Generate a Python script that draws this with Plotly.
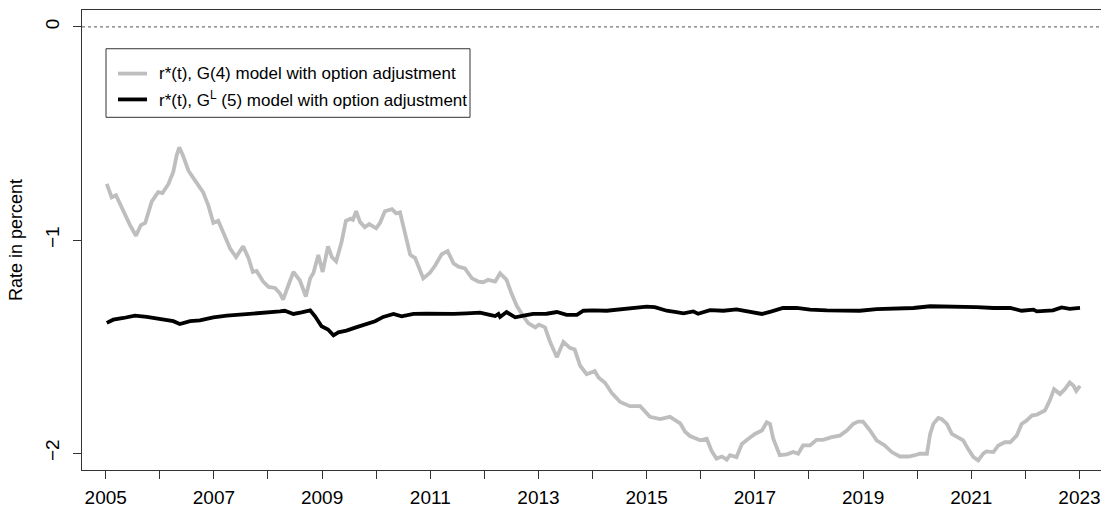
import plotly.graph_objects as go

# ---- data (decimal years, rate in percent) ----
g4_years = [2005.02, 2005.11, 2005.19, 2005.33, 2005.45, 2005.56, 2005.65, 2005.73, 2005.85, 2005.97,
            2006.05, 2006.16, 2006.25, 2006.31, 2006.36, 2006.43, 2006.53, 2006.65, 2006.80, 2006.90,
            2006.99, 2007.08, 2007.17, 2007.30, 2007.41, 2007.54, 2007.64, 2007.72, 2007.79, 2007.91,
            2008.01, 2008.13, 2008.22, 2008.28, 2008.38, 2008.47, 2008.59, 2008.70, 2008.78, 2008.84,
            2008.93, 2009.01, 2009.11, 2009.18, 2009.26, 2009.36, 2009.44, 2009.53, 2009.57, 2009.63,
            2009.70, 2009.79, 2009.87, 2010.00, 2010.07, 2010.16, 2010.29, 2010.37, 2010.44, 2010.53,
            2010.63, 2010.72, 2010.87, 2010.99, 2011.09, 2011.21, 2011.32, 2011.43, 2011.52, 2011.64,
            2011.77, 2011.89, 2011.98, 2012.07, 2012.20, 2012.29, 2012.41, 2012.50, 2012.60, 2012.72,
            2012.81, 2012.94, 2013.01, 2013.12, 2013.21, 2013.34, 2013.46, 2013.58, 2013.67, 2013.77,
            2013.89, 2014.04, 2014.11, 2014.23, 2014.36, 2014.51, 2014.69, 2014.88, 2015.06, 2015.25,
            2015.43, 2015.62, 2015.71, 2015.80, 2015.89, 2015.99, 2016.11, 2016.20, 2016.29, 2016.39,
            2016.48, 2016.54, 2016.66, 2016.76, 2016.88, 2017.00, 2017.13, 2017.22, 2017.28, 2017.34,
            2017.46, 2017.59, 2017.71, 2017.80, 2017.89, 2018.02, 2018.14, 2018.26, 2018.42, 2018.57,
            2018.70, 2018.82, 2018.91, 2019.00, 2019.13, 2019.25, 2019.40, 2019.53, 2019.68, 2019.84,
            2019.96, 2020.05, 2020.18, 2020.24, 2020.30, 2020.39, 2020.45, 2020.55, 2020.64, 2020.73,
            2020.85, 2020.94, 2021.04, 2021.13, 2021.22, 2021.28, 2021.41, 2021.50, 2021.62, 2021.72,
            2021.84, 2021.93, 2022.02, 2022.12, 2022.21, 2022.36, 2022.45, 2022.53, 2022.64, 2022.73,
            2022.82, 2022.89, 2022.94, 2023.01]
g4_rate = [-0.737, -0.80, -0.79, -0.87, -0.93, -0.98, -0.93, -0.92, -0.82, -0.775,
           -0.78, -0.737, -0.68, -0.605, -0.565, -0.605, -0.675, -0.72, -0.775, -0.84,
           -0.92, -0.91, -0.96, -1.04, -1.08, -1.03, -1.085, -1.15, -1.145, -1.195,
           -1.22, -1.225, -1.25, -1.28, -1.21, -1.15, -1.19, -1.265, -1.18, -1.155,
           -1.07, -1.15, -1.03, -1.08, -1.10, -1.01, -0.91, -0.90, -0.905, -0.865,
           -0.915, -0.94, -0.925, -0.945, -0.92, -0.865, -0.855, -0.875, -0.87, -0.97,
           -1.07, -1.085, -1.18, -1.155, -1.12, -1.067, -1.052, -1.11, -1.125, -1.133,
           -1.18, -1.195, -1.198, -1.187, -1.195, -1.156, -1.187, -1.25, -1.31, -1.358,
           -1.39, -1.41, -1.397, -1.41, -1.475, -1.55, -1.478, -1.506, -1.514, -1.59,
           -1.63, -1.615, -1.645, -1.67, -1.72, -1.76, -1.78, -1.78, -1.83, -1.84,
           -1.83, -1.86, -1.90, -1.92, -1.93, -1.94, -1.933, -1.99, -2.026, -2.016,
           -2.031, -2.01, -2.019, -1.957, -1.933, -1.91, -1.894, -1.855, -1.863, -1.933,
           -2.01, -2.006, -1.995, -2.003, -1.964, -1.964, -1.938, -1.938, -1.925, -1.918,
           -1.894, -1.863, -1.852, -1.852, -1.894, -1.94, -1.964, -1.995, -2.016, -2.016,
           -2.01, -2.003, -2.003, -1.91, -1.863, -1.835, -1.84, -1.863, -1.91, -1.925,
           -1.94, -1.98, -2.019, -2.034, -2.003, -1.992, -1.995, -1.964, -1.949, -1.949,
           -1.918, -1.863, -1.848, -1.824, -1.82, -1.80, -1.754, -1.70, -1.723, -1.70,
           -1.669, -1.684, -1.708, -1.684]

gl5_years = [2005.02, 2005.14, 2005.33, 2005.54, 2005.76, 2006.00, 2006.25, 2006.37, 2006.56, 2006.74,
             2006.99, 2007.24, 2007.48, 2007.73, 2007.98, 2008.22, 2008.31, 2008.47, 2008.62, 2008.78,
             2008.87, 2008.99, 2009.11, 2009.21, 2009.30, 2009.45, 2009.64, 2009.82, 2009.98, 2010.13,
             2010.32, 2010.47, 2010.69, 2010.93, 2011.18, 2011.43, 2011.67, 2011.92, 2012.10, 2012.20,
             2012.26, 2012.29, 2012.41, 2012.57, 2012.75, 2012.90, 2013.15, 2013.34, 2013.52, 2013.71,
             2013.83, 2014.01, 2014.26, 2014.51, 2014.75, 2015.00, 2015.15, 2015.37, 2015.55, 2015.68,
             2015.86, 2015.95, 2016.17, 2016.42, 2016.66, 2016.91, 2017.13, 2017.31, 2017.52, 2017.77,
             2018.02, 2018.33, 2018.63, 2018.94, 2019.25, 2019.56, 2019.93, 2020.24, 2020.48, 2020.79,
             2021.10, 2021.41, 2021.72, 2021.93, 2022.15, 2022.21, 2022.51, 2022.67, 2022.82, 2023.01]
gl5_rate = [-1.389, -1.374, -1.366, -1.355, -1.361, -1.371, -1.381, -1.394, -1.381, -1.377,
            -1.363, -1.355, -1.351, -1.344, -1.343, -1.335, -1.332, -1.347, -1.34, -1.33,
            -1.358, -1.405, -1.42, -1.447, -1.433, -1.425, -1.409, -1.394, -1.381, -1.361,
            -1.347, -1.358, -1.347, -1.346, -1.347, -1.347, -1.344, -1.341, -1.351, -1.357,
            -1.347, -1.361, -1.338, -1.363, -1.354, -1.347, -1.346, -1.338, -1.351, -1.351,
            -1.332, -1.33, -1.332, -1.326, -1.323, -1.313, -1.315, -1.332, -1.338, -1.344,
            -1.335, -1.346, -1.329, -1.332, -1.326, -1.335, -1.347, -1.335, -1.319, -1.319,
            -1.327, -1.33, -1.332, -1.332, -1.324, -1.323, -1.319, -1.311, -1.311, -1.313,
            -1.315, -1.319, -1.319, -1.332, -1.327, -1.335, -1.33, -1.316, -1.323, -1.319]

tick_years = list(range(2005, 2024))
tick_labels = [str(y) if y % 2 == 1 else "" for y in tick_years]
y_ticks = [0, -1, -2]

legend_names = ["r*(t), G(4) model with option adjustment",
                "r*(t), G<sup>L</sup> (5) model with option adjustment"]
series_colors = ["#BEBEBE", "#000000"]

FONT = "Liberation Sans, Arial, sans-serif"
W, H = 1101, 508
ML, MR, MT, MB = 82, 0, 10, 35
PW, PH = W - ML - MR, H - MT - MB

fig = go.Figure()
fig.add_trace(go.Scatter(x=g4_years, y=g4_rate, mode="lines",
                         line=dict(color=series_colors[0], width=3.8),
                         showlegend=False, name=legend_names[0]))
fig.add_trace(go.Scatter(x=gl5_years, y=gl5_rate, mode="lines",
                         line=dict(color=series_colors[1], width=3.8),
                         showlegend=False, name=legend_names[1]))

# zero reference line
fig.add_shape(type="line", xref="paper", x0=0, x1=1, yref="y", y0=0, y1=0,
              line=dict(color="#555555", width=1, dash="dot"))

# manual legend (pixel positions converted to paper coords)
def px(xp):
    return (xp - ML) / PW

def py(yp):
    return (H - MB - yp) / PH

fig.add_shape(type="rect", xref="paper", yref="paper",
              x0=px(106), x1=px(470), y0=py(118), y1=py(49),
              line=dict(color="#333333", width=1), fillcolor="white", layer="above")
for i, yp in enumerate([74, 100]):
    fig.add_shape(type="line", xref="paper", yref="paper",
                  x0=px(118), x1=px(147), y0=py(yp), y1=py(yp),
                  line=dict(color=series_colors[i], width=3.8), layer="above")
    fig.add_annotation(xref="paper", yref="paper", x=px(157), y=py(yp),
                       xanchor="left", yanchor="middle", showarrow=False,
                       text=legend_names[i], font=dict(family=FONT, size=17, color="black"))

fig.update_layout(
    width=W, height=H,
    margin=dict(l=ML, r=MR, t=MT, b=MB, pad=0),
    paper_bgcolor="white", plot_bgcolor="white",
    font=dict(family=FONT, size=19, color="black"),
    showlegend=False,
)
fig.update_xaxes(range=[2004.562, 2023.398], tickmode="array", tickvals=tick_years,
                 ticktext=tick_labels, ticks="outside", ticklen=8, tickcolor="#333333",
                 showline=True, linecolor="#333333", linewidth=1, mirror=True,
                 showgrid=False, zeroline=False, tickfont=dict(size=19),
                 ticklabelstandoff=2)
fig.update_yaxes(range=[-2.0793, 0.0793], tickmode="array", tickvals=y_ticks,
                 ticks="outside", ticklen=8, tickcolor="#333333", tickangle=-90,
                 showline=True, linecolor="#333333", linewidth=1, mirror=False,
                 showgrid=False, zeroline=False, tickfont=dict(size=19),
                 ticklabelstandoff=6,
                 title=dict(text="Rate in percent", font=dict(size=18), standoff=15))

fig.write_html("out.html")
